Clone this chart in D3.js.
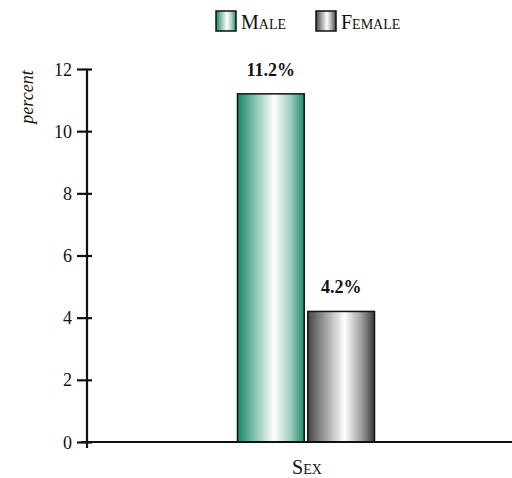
<!DOCTYPE html>
<html><head><meta charset="utf-8">
<script src="https://cdn.jsdelivr.net/npm/d3@7"></script>
<style>body{margin:0;background:#fff}svg{display:block}text{font-family:"Liberation Serif","DejaVu Serif",serif;fill:#111}</style>
</head><body><svg id="c" width="512" height="478"></svg>
<script>
const categories = ["Sex"];
const seriesNames = ["Male", "Female"];
const values = [11.2, 4.2];
const valueLabels = ["11.2%", "4.2%"];
const yTicks = [0, 2, 4, 6, 8, 10, 12];

const svg = d3.select("#c");
const defs = svg.append("defs");
const gradStops = [
  [["0%","#17866a"],["20%","#6db49d"],["55%","#ffffff"],["80%","#9ccbbb"],["100%","#1f8a6c"]],
  [["0%","#444444"],["20%","#8a8a8a"],["55%","#ffffff"],["80%","#a0a0a0"],["100%","#3a3a3a"]]
];
gradStops.forEach((st,i)=>{
  const g = defs.append("linearGradient").attr("id","g"+i).attr("x1","0").attr("x2","1").attr("y1","0").attr("y2","0");
  st.forEach(s=>g.append("stop").attr("offset",s[0]).attr("stop-color",s[1]));
});

const x0 = 87, x1 = 525, yb = 442, yt = 69;
const x = d3.scaleBand().domain(categories).range([x0, x1]).paddingInner(0).paddingOuter(0);
const y = d3.scaleLinear().domain([0, 12]).range([yb, yt]);
const bw = 65, gap = 7;
const xs = d3.scaleBand().domain(seriesNames).range([-(bw + gap/2), bw + gap/2]).paddingInner(gap/(2*bw+gap));

const cx = x(categories[0]) + x.bandwidth()/2;

// bars
seriesNames.forEach((s,i)=>{
  svg.append("rect")
    .attr("x", cx + xs(s)).attr("y", y(values[i]))
    .attr("width", xs.bandwidth()).attr("height", y(0) - y(values[i]))
    .attr("fill", "url(#g"+i+")").attr("stroke", "#111").attr("stroke-width", 1.5);
  svg.append("text").attr("x", cx + xs(s) + xs.bandwidth()/2).attr("y", y(values[i]) - 18)
    .attr("text-anchor","middle").attr("font-size", 18).attr("font-weight","600").text(valueLabels[i]);
});

// y axis
const ya = svg.append("g").attr("transform", `translate(${x0},0)`)
  .call(d3.axisLeft(y).tickValues(yTicks).tickSize(10).tickPadding(5).tickFormat(d3.format("d")));
ya.select(".domain").attr("stroke","#111").attr("stroke-width",2.2).attr("d", `M0,${yt}V${yb+6}`);
ya.selectAll(".tick line").attr("stroke","#111").attr("stroke-width",2.2).attr("x1",5).attr("x2",-10);
ya.selectAll(".tick text").attr("font-size",18).style("font-family",'"Liberation Serif",serif').attr("fill","#111").attr("dy","0.34em");

// x axis line
svg.append("line").attr("x1", x0-6).attr("x2", 512).attr("y1", yb).attr("y2", yb).attr("stroke","#111").attr("stroke-width",2.2);

// y label
svg.append("text").attr("transform","translate(33,97) rotate(-90)").attr("text-anchor","middle")
  .attr("font-size",18).attr("font-style","italic").text("percent");

// x label
svg.append("text").attr("x", cx+1).attr("y", 474).attr("text-anchor","middle").attr("font-size",20)
  .style("font-variant","small-caps").text(categories[0]);

// legend
const legX = [216, 316];
seriesNames.forEach((s,i)=>{
  svg.append("rect").attr("x", legX[i]).attr("y", 11).attr("width", 20).attr("height", 20)
    .attr("fill","url(#g"+i+")").attr("stroke","#111").attr("stroke-width",1.5);
  svg.append("text").attr("x", legX[i]+25).attr("y", 29).attr("font-size",20)
    .style("font-variant","small-caps").text(s);
});
</script></body></html>
